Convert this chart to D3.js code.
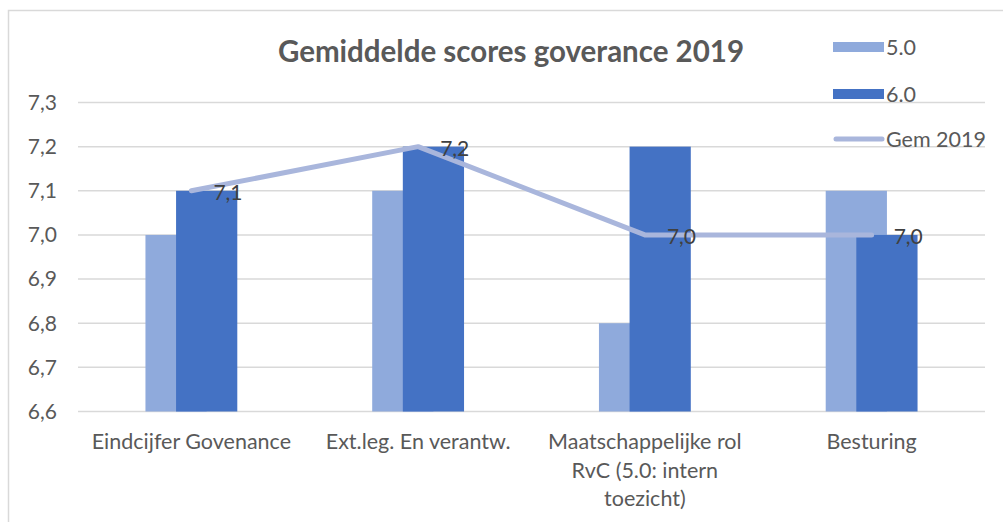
<!DOCTYPE html>
<html>
<head>
<meta charset="utf-8">
<script src="https://cdn.jsdelivr.net/npm/d3@7"></script>
<style>
  body { margin: 0; background: #fff; }
  text { font-family: Lato, "Open Sans", sans-serif; fill: #595959; }
</style>
</head>
<body>
<script>
// data
var categories = [
  ["Eindcijfer Govenance"],
  ["Ext.leg. En verantw."],
  ["Maatschappelijke rol", "RvC (5.0: intern", "toezicht)"],
  ["Besturing"]
];
var series50 = [7.0, 7.1, 6.8, 7.1];
var series60 = [7.1, 7.2, 7.2, 7.0];
var gem2019 = [7.1, 7.2, 7.0, 7.0];
var yTicks = [6.6, 6.7, 6.8, 6.9, 7.0, 7.1, 7.2, 7.3];

var width = 1003, height = 522;

var svg = d3.select("body").append("svg")
            .attr("width", width)
            .attr("height", height);

// chart border
svg.append("rect")
   .attr("x", 8.5).attr("y", 10.5)
   .attr("width", 1000).attr("height", 530)
   .attr("fill", "none")
   .attr("stroke", "#d9d9d9")
   .attr("stroke-width", 1.5);

var idx = d3.range(categories.length);

var x = d3.scaleBand()
          .domain(idx)
          .range([78, 985])
          .padding(0);

var y = d3.scaleLinear()
          .domain([6.6, 7.3])
          .range([411.5, 102.5]);

var fmt = function (v) { return d3.format(".1f")(v).replace(".", ","); };

// gridlines
svg.selectAll(".grid")
   .data(yTicks)
   .enter().append("line")
   .attr("x1", 78).attr("x2", 985)
   .attr("y1", function (d) { return y(d); })
   .attr("y2", function (d) { return y(d); })
   .attr("stroke", "#d9d9d9")
   .attr("stroke-width", 1.5);

// y tick labels
svg.selectAll(".ylab")
   .data(yTicks)
   .enter().append("text")
   .attr("x", 57)
   .attr("y", function (d) { return y(d); })
   .attr("dy", "0.35em")
   .attr("text-anchor", "end")
   .attr("font-size", 21)
   .text(fmt);

var bw = x.bandwidth() * 0.27;
var cx = function (i) { return x(i) + x.bandwidth() / 2; };

// 5.0 bars (behind)
svg.selectAll(".b50")
   .data(series50)
   .enter().append("rect")
   .attr("x", function (d, i) { return cx(i) - bw * 0.75; })
   .attr("y", function (d) { return y(d); })
   .attr("width", bw)
   .attr("height", function (d) { return y(6.6) - y(d); })
   .attr("fill", "#8faadc");

// 6.0 bars
svg.selectAll(".b60")
   .data(series60)
   .enter().append("rect")
   .attr("x", function (d, i) { return cx(i) - bw * 0.25; })
   .attr("y", function (d) { return y(d); })
   .attr("width", bw)
   .attr("height", function (d) { return y(6.6) - y(d); })
   .attr("fill", "#4472c4");

// Gem 2019 line
var line = d3.line()
             .x(function (d, i) { return cx(i); })
             .y(function (d) { return y(d); });

svg.append("path")
   .datum(gem2019)
   .attr("d", line)
   .attr("fill", "none")
   .attr("stroke", "#a9b6dc")
   .attr("stroke-width", 5)
   .attr("stroke-linecap", "round")
   .attr("stroke-linejoin", "round");

svg.selectAll(".lbl")
   .data(gem2019)
   .enter().append("text")
   .attr("x", function (d, i) { return cx(i) + 22; })
   .attr("y", function (d) { return y(d) + 2; })
   .attr("dy", "0.35em")
   .attr("font-size", 21)
   .style("fill", "#404040")
   .text(fmt);

// category labels
var catG = svg.selectAll(".cat")
   .data(categories)
   .enter().append("text")
   .attr("text-anchor", "middle")
   .attr("font-size", 21.5);

catG.selectAll("tspan")
    .data(function (d, i) { return d.map(function (t) { return { t: t, i: i }; }); })
    .enter().append("tspan")
    .attr("x", function (d) { return cx(d.i); })
    .attr("y", function (d, j) { return 449 + j * 28.5; })
    .text(function (d) { return d.t; });

// title
svg.append("text")
   .attr("x", 511)
   .attr("y", 62)
   .attr("text-anchor", "middle")
   .attr("font-size", 29.5)
   .attr("font-weight", "bold")
   .text("Gemiddelde scores goverance 2019");

// legend
var legend = [
  { name: "5.0", color: "#8faadc", type: "rect", yy: 47 },
  { name: "6.0", color: "#4472c4", type: "rect", yy: 94 },
  { name: "Gem 2019", color: "#a9b6dc", type: "line", yy: 139 }
];

legend.forEach(function (l) {
  if (l.type === "rect") {
    svg.append("rect")
       .attr("x", 833).attr("y", l.yy - 5)
       .attr("width", 51).attr("height", 10)
       .attr("fill", l.color);
  } else {
    svg.append("line")
       .attr("x1", 836).attr("x2", 882)
       .attr("y1", l.yy).attr("y2", l.yy)
       .attr("stroke", l.color)
       .attr("stroke-width", 5)
       .attr("stroke-linecap", "round");
  }
  svg.append("text")
     .attr("x", 886)
     .attr("y", l.yy)
     .attr("dy", "0.35em")
     .attr("font-size", 21.5)
     .text(l.name);
});
</script>
</body>
</html>
